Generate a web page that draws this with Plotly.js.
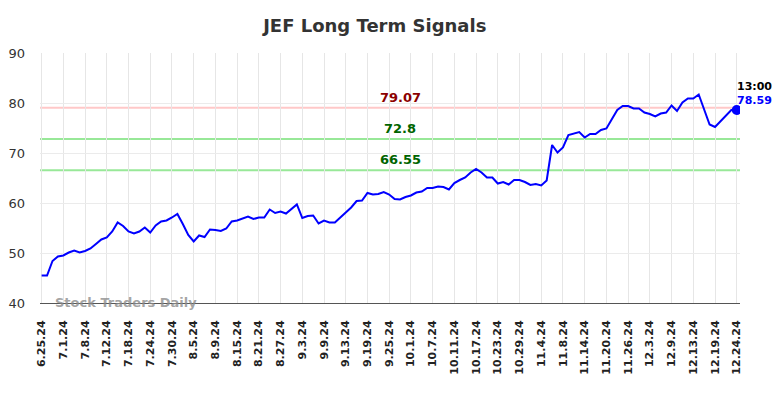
<!DOCTYPE html>
<html>
<head>
<meta charset="utf-8">
<script src="https://cdn.plot.ly/plotly-3.0.1.min.js"></script>
<style>html,body{margin:0;padding:0;background:#fff;}#chart{width:784px;height:398px;}</style>
</head>
<body>
<div id="chart"></div>
<script>
const tickLabels = ["6.25.24","7.1.24","7.8.24","7.12.24","7.18.24","7.24.24","7.30.24","8.5.24","8.9.24","8.15.24","8.21.24","8.27.24","9.3.24","9.9.24","9.13.24","9.19.24","9.25.24","10.1.24","10.7.24","10.11.24","10.17.24","10.23.24","10.29.24","11.4.24","11.8.24","11.14.24","11.20.24","11.26.24","12.3.24","12.9.24","12.13.24","12.19.24","12.24.24"];
const prices = [45.5,45.5,48.4,49.3,49.5,50.1,50.5,50.1,50.4,50.9,51.8,52.7,53.1,54.3,56.1,55.4,54.3,53.9,54.3,55.1,54.1,55.5,56.3,56.5,57.1,57.8,55.8,53.6,52.3,53.5,53.2,54.7,54.6,54.4,54.9,56.3,56.5,56.9,57.3,56.8,57.1,57.1,58.7,58.0,58.3,57.9,58.9,59.7,57.0,57.4,57.5,55.9,56.5,56.1,56.1,57.2,58.1,59.1,60.4,60.5,62.0,61.7,61.8,62.2,61.7,60.8,60.7,61.2,61.5,62.1,62.3,63.0,63.0,63.3,63.2,62.7,64.0,64.6,65.1,66.1,66.8,66.1,65.1,65.1,63.9,64.2,63.7,64.6,64.6,64.2,63.6,63.8,63.5,64.5,71.6,70.1,71.1,73.6,73.9,74.2,73.1,73.8,73.8,74.6,74.9,76.7,78.6,79.4,79.4,78.9,78.9,78.1,77.8,77.3,77.9,78.1,79.5,78.4,80.1,80.9,80.9,81.7,78.6,75.7,75.2,76.3,77.6,78.6,78.59];
const levels = [79.07, 72.8, 66.55];
const levelLineColors = ["#ffc8c8", "#98e898", "#98e898"];
const levelTextColors = ["#8b0000", "#006400", "#006400"];
const lastTime = "13:00";
const tickStep = 4;

const xs = prices.map((_, i) => i);
const tickVals = tickLabels.map((_, i) => i * tickStep);
const lastIdx = prices.length - 1;
const lastVal = prices[lastIdx];
const xMax = lastIdx + 0.6;

const shapes = levels.map((v, k) => ({
  type: "line", xref: "x", yref: "y", x0: -0.3, x1: xMax, y0: v, y1: v,
  line: {color: levelLineColors[k], width: 2}, layer: "below"
}));

const annotations = levels.map((v, k) => ({
  x: 66, y: v, xref: "x", yref: "y", text: "<b>" + v + "</b>", showarrow: false,
  yanchor: "bottom", yshift: 1, font: {family: "DejaVu Sans", size: 13, color: levelTextColors[k]}
}));
annotations.push({x: lastIdx, y: lastVal, xref: "x", yref: "y", text: "<b>" + lastTime + "</b>", showarrow: false,
  xanchor: "left", yanchor: "middle", xshift: -2, yshift: 24, font: {family: "DejaVu Sans", size: 11, color: "#000"}});
annotations.push({x: lastIdx, y: lastVal, xref: "x", yref: "y", text: "<b>" + lastVal + "</b>", showarrow: false,
  xanchor: "left", yanchor: "middle", xshift: -2, yshift: 10, font: {family: "DejaVu Sans", size: 11, color: "#0000ff"}});
annotations.push({x: 0.018, y: 40, xref: "paper", yref: "y", text: "<b>Stock Traders Daily</b>", showarrow: false,
  xanchor: "left", yanchor: "middle", yshift: 1, font: {family: "DejaVu Sans", size: 13, color: "rgba(140,140,140,0.8)"}});

const traces = [
  {x: xs, y: prices, type: "scatter", mode: "lines", line: {color: "#0000ff", width: 2}, hoverinfo: "skip"},
  {x: [lastIdx], y: [lastVal], type: "scatter", mode: "markers", marker: {color: "#0000ff", size: 10}, hoverinfo: "skip"}
];

const layout = {
  width: 784, height: 398,
  margin: {l: 40, r: 44, t: 53, b: 95},
  paper_bgcolor: "#fff", plot_bgcolor: "#fff",
  showlegend: false,
  title: {text: "<b>JEF Long Term Signals</b>", x: 0.478, xanchor: "center", y: 0.935, yanchor: "middle",
    font: {family: "DejaVu Sans", size: 18, color: "#333"}},
  xaxis: {range: [-0.3, xMax], tickmode: "array", tickvals: tickVals, ticktext: tickLabels, tickangle: -90,
    tickfont: {family: "DejaVu Sans", size: 11, color: "#222", weight: "bold"},
    ticklabelstandoff: 12,
    showgrid: true, gridcolor: "#e6e6e6", gridwidth: 1, zeroline: false,
    showline: true, linecolor: "#555", linewidth: 1, ticks: "", ticklen: 0},
  yaxis: {range: [40, 90], tickvals: [40, 50, 60, 70, 80, 90], showgrid: true, gridcolor: "#ebebeb", gridwidth: 1,
    zeroline: false, showline: false, ticks: "", ticklabelstandoff: 14,
    tickfont: {family: "DejaVu Sans", size: 13, color: "#333"}},
  shapes: shapes,
  annotations: annotations
};

Plotly.newPlot("chart", traces, layout, {displayModeBar: false, staticPlot: true});
</script>
</body>
</html>
